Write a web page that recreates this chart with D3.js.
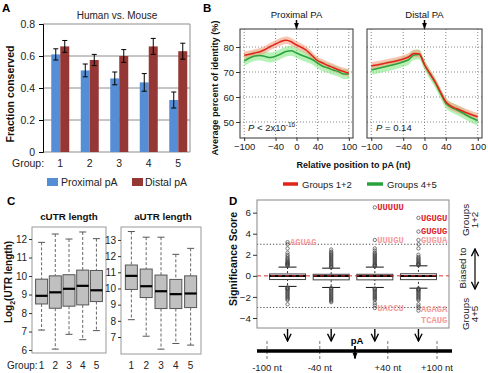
<!DOCTYPE html>
<html><head><meta charset="utf-8">
<script src="https://cdn.jsdelivr.net/npm/d3@7"></script>
<style>body{margin:0;background:#fff} svg{display:block}</style>
</head><body><svg id="c" width="488" height="373"></svg>
<script>
// ---------------- DATA ----------------
const groups = [1, 2, 3, 4, 5];
const fracTicks = [0, 0.2, 0.4, 0.6, 0.8];
const proximalFrac = [0.61, 0.51, 0.46, 0.435, 0.325];
const proximalErr  = [0.035, 0.04, 0.04, 0.055, 0.05];
const distalFrac   = [0.66, 0.575, 0.60, 0.66, 0.63];
const distalErr    = [0.037, 0.035, 0.04, 0.05, 0.05];

const relPos = [-100,-90,-80,-70,-60,-50,-40,-30,-20,-10,0,10,20,30,40,50,60,70,80,90,100];
const proxG12 = [76.7,77.1,77.6,78.1,79.0,80.2,81.2,82.2,82.7,82.1,80.8,79.8,78.5,76.5,74.6,73.6,72.6,71.8,70.9,70.2,69.5];
const proxG45 = [74.4,75.6,76.4,76.6,76.2,75.8,76.3,77.2,78.2,78.5,77.6,76.7,75.9,75.0,73.6,72.3,71.6,70.8,70.2,69.2,69.2];
const distG12 = [72.4,72.8,73.2,73.7,74.1,74.6,75.2,76.0,77.4,77.3,73.0,69.5,66.1,62.0,58.1,56.3,55.4,54.5,53.6,52.8,52.1];
const distG45 = [70.8,71.3,71.8,72.3,72.8,73.4,74.1,74.9,76.8,77.0,72.8,69.2,65.7,61.5,57.5,55.9,54.9,53.8,52.6,51.5,50.5];
const bandG12 = 1.5, bandG45 = 2.0;
const identTicks = [50, 60, 70, 80];
const posTicks = [-100, -40, 0, 40, 100];

// cUTR boxplots
const cLow  = [7.08, 6.05, 6.85, 6.56, 7.05];
const cQ1   = [8.49, 8.26, 8.37, 8.44, 8.62];
const cMed  = [8.93, 9.12, 9.31, 9.47, 9.23];
const cQ3   = [9.83, 10.01, 10.07, 10.32, 10.30];
const cHigh = [11.82, 12.27, 12.0, 12.38, 12.02];
const cTicks = [6, 7, 8, 9, 10, 11, 12];
// aUTR boxplots
const aLow  = [8.07, 7.05, 6.25, 6.6, 6.5];
const aQ1   = [9.94, 9.44, 8.76, 8.76, 8.82];
const aMed  = [10.78, 10.14, 9.83, 9.65, 9.69];
const aQ3   = [11.45, 11.20, 10.83, 10.56, 10.78];
const aHigh = [13.52, 13.17, 13.17, 12.11, 12.48];
const aTicks = [7, 8, 9, 10, 11, 12, 13];

// motif significance boxplots (4 regions)
const regions = [1, 2, 3, 4];
const dLow  = [-1.0, -1.1, -1.1, -1.17];
const dQ1   = [-0.35, -0.38, -0.38, -0.36];
const dMed  = [-0.02, -0.02, -0.02, -0.02];
const dQ3   = [0.18, 0.15, 0.15, 0.2];
const dHigh = [0.83, 0.73, 0.83, 0.95];
const dOutliers = [
  [0.95,1.0,1.05,1.1,1.15,1.2,1.25,1.3,1.4,1.5,1.6,1.7,1.85,2.0,2.2,2.6,3.0,3.2,
   -1.1,-1.15,-1.2,-1.25,-1.3,-1.4,-1.5,-1.6,-1.7,-1.8,-1.9,-2.0,-2.1,-2.2,-2.3,-2.7],
  [0.8,0.85,0.9,1.0,1.1,1.2,1.3,1.4,1.5,1.6,1.7,1.8,1.9,2.0,2.1,2.2,2.3,2.5,
   -1.15,-1.2,-1.3,-1.4,-1.5,-1.6,-1.7,-1.8,-1.9,-2.0,-2.1,-2.2,-2.3,-2.4,-2.5],
  [0.9,0.95,1.0,1.05,1.1,1.2,1.3,1.4,1.5,1.6,1.7,1.8,1.9,2.0,2.1,2.2,2.4,2.6,3.4,6.5,
   -1.2,-1.25,-1.3,-1.4,-1.5,-1.6,-1.7,-1.8,-1.9,-2.0,-2.1,-2.2,-2.3,-2.6,-2.8,-3.05],
  [1.0,1.05,1.1,1.15,1.2,1.3,1.4,1.5,1.6,1.7,1.8,2.0,2.6,3.0,3.4,4.2,5.5,
   -1.2,-1.25,-1.3,-1.35,-1.4,-1.5,-1.6,-1.7,-1.8,-1.9,-2.0,-2.1,-2.2,-2.3,-2.7,-2.9,-3.05,-3.3]
];
const motifNames  = ["AGUAG", "UUUUU", "UUUGU", "UACCU", "UGUGU", "GUGUG", "GUGUA", "AGAGA", "TCAUG"];
const motifRegion = [1, 3, 3, 3, 4, 4, 4, 4, 4];
const motifScore  = [3.2, 6.5, 3.4, -3.05, 5.5, 4.3, 3.4, -3.3, -3.3];
const motifStrong = [false, true, false, false, true, true, false, false, false];
const scoreTicks = [-4, -2, 0, 2, 4, 6];
const geneTicks = [-100, -40, 40, 100];
const geneTickLabels = ["-100 nt", "-40 nt", "+40 nt", "+100 nt"];

// ---------------- DRAW ----------------
const FONT = "'Liberation Sans', Arial, sans-serif";
const MONO = "'Liberation Mono', 'Courier New', monospace";
const svg = d3.select("#c").attr("font-family", FONT);
const defs = svg.append("defs");
function arrowMarker(id, open, size) {
  const m = defs.append("marker").attr("id", id).attr("viewBox", "0 0 10 10")
    .attr("refX", 9).attr("refY", 5).attr("markerWidth", size).attr("markerHeight", size)
    .attr("orient", "auto-start-reverse").attr("markerUnits", "userSpaceOnUse");
  if (open) m.append("path").attr("d", "M1,1 L9,5 L1,9").attr("fill", "none").attr("stroke", "#000").attr("stroke-width", 1.5);
  else m.append("path").attr("d", "M0,1 L10,5 L0,9 Z").attr("fill", "#000");
}
arrowMarker("arrFill", false, 6);
arrowMarker("arrOpen", true, 6);
arrowMarker("arrOpenBig", true, 9);
const txt = (g, x, y, s, o = {}) => g.append("text").attr("x", x).attr("y", y).text(s)
  .attr("font-size", o.size || 10).attr("font-weight", o.bold ? "bold" : null)
  .attr("text-anchor", o.anchor || "start").attr("fill", o.fill || "#000");
const vtxt = (g, x, y, s, o = {}) => g.append("text").attr("transform", `translate(${x},${y}) rotate(-90)`).text(s)
  .attr("font-size", o.size || 10).attr("font-weight", o.bold ? "bold" : null)
  .attr("text-anchor", "middle").attr("fill", o.fill || "#000");
function styleAxis(ax, size) {
  ax.select(".domain").remove();
  ax.selectAll("text").attr("font-size", size).attr("font-family", FONT).attr("fill", "#222");
  ax.selectAll("line").attr("stroke", "#333");
}

// ===== Panel A =====
const gA = svg.append("g");
txt(gA, 2, 12, "A", { bold: true, size: 11.5 });
const xA = d3.scaleBand().domain(groups).range([45.5, 193]);
const yA = d3.scaleLinear().domain([0, 0.8]).range([152, 24]);
gA.selectAll(".gridA").data(fracTicks.filter(d => d > 0)).join("line")
  .attr("x1", 43).attr("x2", 190).attr("y1", d => yA(d)).attr("y2", d => yA(d)).attr("stroke", "#8c8c8c");
gA.append("line").attr("x1", 190).attr("x2", 190).attr("y1", yA(0.8)).attr("y2", yA(0)).attr("stroke", "#8c8c8c");
gA.append("line").attr("x1", 43).attr("x2", 190).attr("y1", yA(0)).attr("y2", yA(0)).attr("stroke", "#8c8c8c");
const bwA = 9;
const cA = g => xA(g) + xA.bandwidth() / 2;
gA.selectAll(".barP").data(groups).join("rect")
  .attr("x", (g) => cA(g) - bwA).attr("width", bwA)
  .attr("y", (g, i) => yA(proximalFrac[i])).attr("height", (g, i) => yA(0) - yA(proximalFrac[i]))
  .attr("fill", "#558ed5");
gA.selectAll(".barD").data(groups).join("rect")
  .attr("x", (g) => cA(g)).attr("width", bwA)
  .attr("y", (g, i) => yA(distalFrac[i])).attr("height", (g, i) => yA(0) - yA(distalFrac[i]))
  .attr("fill", "#953735");
function errBars(vals, errs, off) {
  groups.forEach((g, i) => {
    const x = cA(g) + off;
    const lo = yA(vals[i] - errs[i]), hi = yA(vals[i] + errs[i]);
    gA.append("line").attr("x1", x).attr("x2", x).attr("y1", lo).attr("y2", hi).attr("stroke", "#000");
    [lo, hi].forEach(y => gA.append("line").attr("x1", x - 2.5).attr("x2", x + 2.5).attr("y1", y).attr("y2", y).attr("stroke", "#000"));
  });
}
errBars(proximalFrac, proximalErr, -bwA / 2);
errBars(distalFrac, distalErr, bwA / 2);
const axA = gA.append("g").attr("transform", "translate(43,0)")
  .call(d3.axisLeft(yA).tickValues(fracTicks).tickSize(4).tickPadding(4).tickFormat(d => d === 0 ? "0" : d.toFixed(1)));
axA.select(".domain").attr("stroke", "#000");
axA.selectAll("text").attr("font-size", 10.5).attr("font-family", FONT).attr("fill", "#222");
txt(gA, 117, 19, "Human vs. Mouse", { size: 10, anchor: "middle", fill: "#222" });
vtxt(gA, 14, 94, "Fraction conserved", { size: 10.5, fill: "#111" }).attr("font-weight", "bold");
txt(gA, 12, 167, "Group:", { size: 10.5, fill: "#222" });
gA.selectAll(".glA").data(groups).join("text").attr("x", g => cA(g)).attr("y", 167)
  .attr("text-anchor", "middle").attr("font-size", 10.5).attr("fill", "#222").text(g => g);
gA.append("rect").attr("x", 47).attr("y", 178).attr("width", 11).attr("height", 8).attr("fill", "#558ed5");
txt(gA, 61, 186, "Proximal pA", { size: 10.5, fill: "#222" });
gA.append("rect").attr("x", 132).attr("y", 178).attr("width", 11).attr("height", 8).attr("fill", "#953735");
txt(gA, 145, 186, "Distal pA", { size: 10.5, fill: "#222" });

// ===== Panel B =====
const gB = svg.append("g");
txt(gB, 203, 12, "B", { bold: true, size: 11.5 });
const yB = d3.scaleLinear().domain([43.6, 87.2]).range([138, 29]);
const panelsB = [
  { x: d3.scaleLinear().domain([-108, 108]).range([240, 353]), g12: proxG12, g45: proxG45, title: "Proximal PA", id: "clipL" },
  { x: d3.scaleLinear().domain([-108, 108]).range([367, 482]), g12: distG12, g45: distG45, title: "Distal PA", id: "clipR" }
];
panelsB.forEach((p, k) => {
  const [x0, x1] = p.x.range();
  defs.append("clipPath").attr("id", p.id).append("rect").attr("x", x0).attr("y", 29).attr("width", x1 - x0).attr("height", 109);
  const g = gB.append("g");
  g.selectAll(".gv").data(posTicks).join("line").attr("x1", d => p.x(d)).attr("x2", d => p.x(d))
    .attr("y1", 29).attr("y2", 138).attr("stroke", "#888").attr("stroke-dasharray", "1,2");
  g.selectAll(".gh").data(identTicks).join("line").attr("y1", d => yB(d)).attr("y2", d => yB(d))
    .attr("x1", x0).attr("x2", x1).attr("stroke", "#888").attr("stroke-dasharray", "1,2");
  const inner = g.append("g").attr("clip-path", `url(#${p.id})`);
  const area = (vals, b) => d3.area().x((d, i) => p.x(relPos[i])).y0((d) => yB(d - b)).y1((d) => yB(d + b)).curve(d3.curveMonotoneX)(vals);
  const line = (vals) => d3.line().x((d, i) => p.x(relPos[i])).y(d => yB(d)).curve(d3.curveMonotoneX)(vals);
  inner.append("path").attr("d", area(p.g45, bandG45)).attr("fill", "#86e886").attr("opacity", 0.6);
  inner.append("path").attr("d", area(p.g12, bandG12)).attr("fill", "#f3a07e").attr("opacity", 0.6);
  inner.append("path").attr("d", line(p.g45)).attr("fill", "none").attr("stroke", "#2aa33c").attr("stroke-width", 1.5);
  inner.append("path").attr("d", line(p.g12)).attr("fill", "none").attr("stroke", "#e2231a").attr("stroke-width", 1.5);
  g.append("rect").attr("x", x0).attr("y", 29).attr("width", x1 - x0).attr("height", 109)
    .attr("fill", "none").attr("stroke", "#333");
  const axb = g.append("g").attr("transform", "translate(0,138)")
    .call(d3.axisBottom(p.x).tickValues(posTicks).tickSize(3).tickPadding(2).tickFormat(d3.format("d")));
  styleAxis(axb, 9.5);
  if (k === 0) {
    const axl = g.append("g").attr("transform", `translate(${x0},0)`)
      .call(d3.axisLeft(yB).tickValues(identTicks).tickSize(4).tickPadding(2).tickFormat(d3.format("d")));
    styleAxis(axl, 9.5);
  }
  txt(g, p.x(0), 17.5, p.title, { size: 9.5, anchor: "middle", fill: "#111" });
  g.append("line").attr("x1", p.x(0)).attr("x2", p.x(0)).attr("y1", 20).attr("y2", 28.5)
    .attr("stroke", "#000").attr("stroke-width", 1.5).attr("marker-end", "url(#arrFill)");
});
{
  const t = gB.append("text").attr("x", 248).attr("y", 131).attr("font-size", 9.5).attr("fill", "#222");
  t.append("tspan").attr("font-style", "italic").text("P");
  t.append("tspan").text(" < 2x10");
  t.append("tspan").attr("font-size", 6.5).attr("dy", -4).text("-16");
  const t2 = gB.append("text").attr("x", 376).attr("y", 131).attr("font-size", 9.5).attr("fill", "#222");
  t2.append("tspan").attr("font-style", "italic").text("P");
  t2.append("tspan").text(" = 0.14");
}
vtxt(gB, 218, 88, "Average percent of identity (%)", { size: 9.2, bold: true, fill: "#111" });
txt(gB, 353.5, 168, "Relative position to pA (nt)", { size: 9, bold: true, anchor: "middle", fill: "#111" });
gB.append("line").attr("x1", 283).attr("x2", 298).attr("y1", 184).attr("y2", 184).attr("stroke", "#e2231a").attr("stroke-width", 3.5);
txt(gB, 302, 187.5, "Groups 1+2", { size: 9.5, fill: "#222" });
gB.append("line").attr("x1", 367).attr("x2", 383).attr("y1", 184).attr("y2", 184).attr("stroke", "#2aa33c").attr("stroke-width", 3.5);
txt(gB, 387, 187.5, "Groups 4+5", { size: 9.5, fill: "#222" });

// ===== Panel C =====
const gC = svg.append("g");
txt(gC, 7, 205, "C", { bold: true, size: 11.5 });
function boxPanel(x0, x1, yDom, yTop, yBot, lo, q1, med, q3, hi, ticks, title, titleX) {
  const x = d3.scaleLinear().domain([0.3, 5.7]).range([x0, x1]);
  const y = d3.scaleLinear().domain(yDom).range([yBot, yTop]);
  const g = gC.append("g");
  const bw = 12;
  groups.forEach((gr, i) => {
    const cx = x(gr);
    g.append("line").attr("x1", cx).attr("x2", cx).attr("y1", y(hi[i])).attr("y2", y(q3[i]))
      .attr("stroke", "#666").attr("stroke-dasharray", "3,2");
    g.append("line").attr("x1", cx).attr("x2", cx).attr("y1", y(q1[i])).attr("y2", y(lo[i]))
      .attr("stroke", "#666").attr("stroke-dasharray", "3,2");
    [lo[i], hi[i]].forEach(v => g.append("line").attr("x1", cx - 3.5).attr("x2", cx + 3.5)
      .attr("y1", y(v)).attr("y2", y(v)).attr("stroke", "#555"));
    g.append("rect").attr("x", cx - bw / 2).attr("width", bw).attr("y", y(q3[i])).attr("height", y(q1[i]) - y(q3[i]))
      .attr("fill", "#c0c0c0").attr("stroke", "#555");
    g.append("line").attr("x1", cx - bw / 2).attr("x2", cx + bw / 2).attr("y1", y(med[i])).attr("y2", y(med[i]))
      .attr("stroke", "#000").attr("stroke-width", 2.2);
  });
  g.append("rect").attr("x", x0).attr("y", yTop).attr("width", x1 - x0).attr("height", yBot - yTop)
    .attr("fill", "none").attr("stroke", "#999");
  const ax = g.append("g").attr("transform", `translate(${x0},0)`)
    .call(d3.axisLeft(y).tickValues(ticks).tickSize(3).tickPadding(2).tickFormat(d3.format("d")));
  styleAxis(ax, 10);
  txt(g, titleX, 220, title, { size: 9.8, bold: true, anchor: "middle", fill: "#111" });
  g.selectAll(".gl").data(groups).join("text").attr("x", d => x(d)).attr("y", 369)
    .attr("text-anchor", "middle").attr("font-size", 10).attr("fill", "#222").text(d => d);
  return x;
}
boxPanel(32, 106, [5.84, 12.65], 227, 353, cLow, cQ1, cMed, cQ3, cHigh, cTicks, "cUTR length", 69);
boxPanel(121, 201, [5.95, 13.8], 227, 354, aLow, aQ1, aMed, aQ3, aHigh, aTicks, "aUTR length", 163);
txt(gC, 7, 369, "Group:", { size: 10, fill: "#222" });
{
  const t = gC.append("text").attr("transform", "translate(12,282) rotate(-90)").attr("text-anchor", "middle")
    .attr("font-size", 10).attr("font-weight", "bold").attr("fill", "#111");
  t.append("tspan").text("Log");
  t.append("tspan").attr("font-size", 7).attr("dy", 3).text("2");
  t.append("tspan").attr("dy", -3).text("(UTR length)");
}

// ===== Panel D =====
const gD = svg.append("g");
txt(gD, 229, 205, "D", { bold: true, size: 11.5 });
const xD = d3.scaleLinear().domain([0.3, 4.7]).range([257, 449]);
const yD = d3.scaleLinear().domain([-4.95, 7.2]).range([328, 200]);
gD.selectAll(".thr").data([3, -3]).join("line").attr("x1", 257).attr("x2", 449)
  .attr("y1", d => yD(d)).attr("y2", d => yD(d)).attr("stroke", "#444").attr("stroke-dasharray", "1.2,2");
const bwD = 36;
regions.forEach((r, i) => {
  const cx = xD(r);
  const g = gD;
  g.append("line").attr("x1", cx).attr("x2", cx).attr("y1", yD(dHigh[i])).attr("y2", yD(dLow[i]))
    .attr("stroke", "#333").attr("stroke-dasharray", "2,2");
  [dLow[i], dHigh[i]].forEach(v => g.append("line").attr("x1", cx - 9).attr("x2", cx + 9)
    .attr("y1", yD(v)).attr("y2", yD(v)).attr("stroke", "#111"));
  g.append("rect").attr("x", cx - bwD / 2).attr("width", bwD).attr("y", yD(dQ3[i])).attr("height", yD(dQ1[i]) - yD(dQ3[i]))
    .attr("fill", "#fff").attr("stroke", "#444");
  g.append("line").attr("x1", cx - bwD / 2).attr("x2", cx + bwD / 2).attr("y1", yD(dMed[i])).attr("y2", yD(dMed[i]))
    .attr("stroke", "#000").attr("stroke-width", 2);
  g.selectAll(null).data(dOutliers[i]).join("circle").attr("cx", cx).attr("cy", d => yD(d)).attr("r", 1.7)
    .attr("fill", "none").attr("stroke", "#444").attr("stroke-width", 0.7);
});
gD.append("line").attr("x1", 257).attr("x2", 449).attr("y1", yD(0)).attr("y2", yD(0))
  .attr("stroke", "#e0302a").attr("stroke-dasharray", "4,3");
motifNames.forEach((m, i) => {
  const cx = xD(motifRegion[i]);
  const shift = m === "TCAUG" ? 9 : (m === "AGAGA" ? -1.5 : 0);
  gD.append("text").attr("x", cx + 2.5).attr("y", yD(motifScore[i]) + 3 + shift)
    .attr("font-family", MONO).attr("font-size", 8.8).attr("font-weight", "bold")
    .attr("fill", motifStrong[i] ? "#e0202a" : "#f59a9a").text(m);
});
gD.append("rect").attr("x", 257).attr("y", 200).attr("width", 192).attr("height", 128)
  .attr("fill", "none").attr("stroke", "#888");
const axD = gD.append("g").attr("transform", "translate(257,0)")
  .call(d3.axisLeft(yD).tickValues(scoreTicks).tickSize(4).tickPadding(2).tickFormat(d3.format("d")));
styleAxis(axD, 9.8);
vtxt(gD, 237, 259, "Significance Score", { size: 10.5, bold: true, fill: "#111" });
// right annotations
vtxt(gD, 469, 220, "Groups", { size: 9.8, fill: "#222" });
vtxt(gD, 478, 220, "1+2", { size: 9.8, fill: "#222" });
vtxt(gD, 466, 268, "Biased to", { size: 9.8, fill: "#222" });
vtxt(gD, 469, 314, "Groups", { size: 9.8, fill: "#222" });
vtxt(gD, 478, 314, "4+5", { size: 9.8, fill: "#222" });
gD.append("line").attr("x1", 475).attr("x2", 475).attr("y1", 249).attr("y2", 289)
  .attr("stroke", "#000").attr("stroke-width", 1.2)
  .attr("marker-start", "url(#arrOpenBig)").attr("marker-end", "url(#arrOpenBig)");
// region arrows
regions.forEach(r => {
  gD.append("line").attr("x1", xD(r)).attr("x2", xD(r)).attr("y1", 329).attr("y2", 341)
    .attr("stroke", "#000").attr("stroke-width", 1.4).attr("marker-end", "url(#arrOpenBig)");
});
// gene line
const xG = d3.scaleLinear().domain([-100, 0, 100]).range([267, 355, 437]);
gD.selectAll(".gt").data(geneTicks).join("line").attr("x1", d => xG(d)).attr("x2", d => xG(d))
  .attr("y1", 341).attr("y2", 361).attr("stroke", "#777").attr("stroke-dasharray", "3,2");
gD.append("line").attr("x1", 257).attr("x2", 452).attr("y1", 351).attr("y2", 351).attr("stroke", "#000").attr("stroke-width", 3.3);
gD.selectAll(".gl").data(geneTicks).join("text").attr("x", d => xG(d)).attr("y", 371)
  .attr("text-anchor", "middle").attr("font-size", 9.5).attr("fill", "#222").text((d, i) => geneTickLabels[i]);
txt(gD, 357, 344, "pA", { size: 9.5, bold: true, anchor: "middle" });
gD.append("line").attr("x1", xG(0)).attr("x2", xG(0)).attr("y1", 346).attr("y2", 358.5)
  .attr("stroke", "#000").attr("stroke-width", 1.8).attr("marker-end", "url(#arrFill)");
</script></body></html>
